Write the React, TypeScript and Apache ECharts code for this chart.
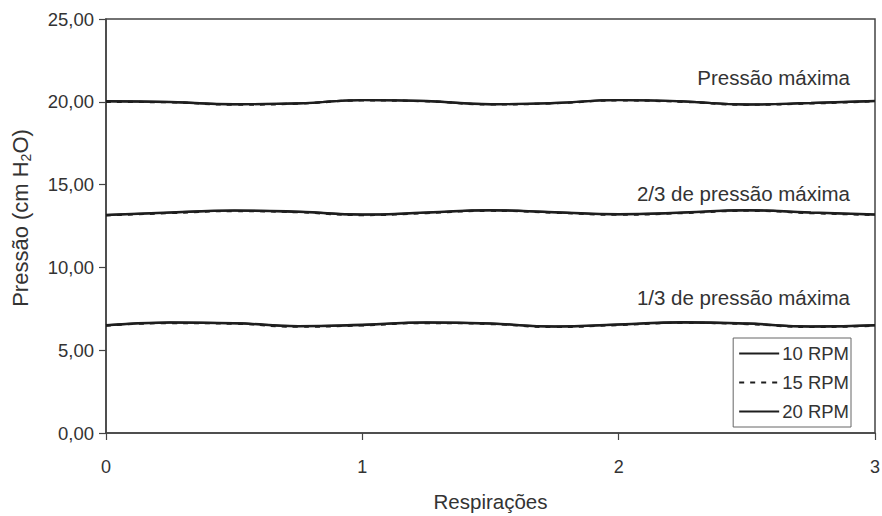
import React, { useEffect, useRef } from "react";
import * as echarts from "echarts";

const breaths = [0, 0.25, 0.5, 0.75, 1, 1.25, 1.5, 1.75, 2, 2.25, 2.5, 2.75, 3];

const max10 = [20.02, 19.98, 19.85, 19.9, 20.1, 20.04, 19.85, 19.92, 20.1, 20.02, 19.83, 19.92, 20.04];
const max15 = [20.0, 19.97, 19.83, 19.89, 20.08, 20.03, 19.84, 19.91, 20.08, 20.0, 19.82, 19.9, 20.03];
const max20 = [20.04, 20.0, 19.86, 19.91, 20.11, 20.05, 19.86, 19.93, 20.11, 20.03, 19.84, 19.93, 20.05];

const twoThirds10 = [13.16, 13.3, 13.42, 13.35, 13.18, 13.3, 13.44, 13.32, 13.2, 13.3, 13.44, 13.3, 13.18];
const twoThirds15 = [13.14, 13.28, 13.4, 13.33, 13.16, 13.28, 13.42, 13.3, 13.18, 13.28, 13.42, 13.28, 13.16];
const twoThirds20 = [13.18, 13.32, 13.44, 13.37, 13.2, 13.32, 13.46, 13.34, 13.22, 13.32, 13.46, 13.32, 13.2];

const oneThird10 = [6.5, 6.66, 6.62, 6.44, 6.52, 6.66, 6.6, 6.42, 6.54, 6.67, 6.6, 6.42, 6.5];
const oneThird15 = [6.48, 6.64, 6.6, 6.42, 6.5, 6.64, 6.58, 6.4, 6.52, 6.65, 6.58, 6.4, 6.48];
const oneThird20 = [6.52, 6.68, 6.64, 6.46, 6.54, 6.68, 6.62, 6.44, 6.56, 6.69, 6.62, 6.44, 6.52];

const seriesNames = ["10 RPM", "15 RPM", "20 RPM"];
const levelLabels = ["Pressão máxima", "2/3 de pressão máxima", "1/3 de pressão máxima"];

const FONT = "Liberation Sans";
const TEXT = "#333";
const LINE = "#1e1e1e";

function pairs(vals: number[]) {
  return breaths.map((b, i) => [b, vals[i]]);
}

export default function App() {
  const ref = useRef<HTMLDivElement>(null);
  useEffect(() => {
    if (!ref.current) return;
    const chart = echarts.init(ref.current, null, { renderer: "svg" });
    const groups = [
      [max10, max15, max20],
      [twoThirds10, twoThirds15, twoThirds20],
      [oneThird10, oneThird15, oneThird20],
    ];
    const series: any[] = [];
    groups.forEach((g) => {
      g.forEach((vals, k) => {
        series.push({
          name: seriesNames[k],
          type: "line",
          smooth: true,
          symbol: "none",
          data: pairs(vals),
          lineStyle: { color: LINE, width: 2.2, type: k === 1 ? [5, 6] : "solid" },
          itemStyle: { color: LINE },
        });
      });
    });
    const annoFont = `20.5px "${FONT}"`;
    chart.setOption({
      animation: false,
      textStyle: { fontFamily: FONT },
      grid: {
        left: 106,
        right: 7,
        top: 19,
        bottom: 83,
        show: true,
        borderColor: "#444",
        borderWidth: 1.5,
        containLabel: false,
        outerBoundsMode: "none",
      },
      legend: {
        data: seriesNames,
        orient: "vertical",
        right: 31,
        bottom: 89,
        itemWidth: 40,
        itemHeight: 19,
        itemGap: 10,
        padding: [6, 2, 6, 5],
        borderColor: "#666",
        borderWidth: 1,
        borderRadius: 0,
        backgroundColor: "#fff",
        itemStyle: { opacity: 0 },
        lineStyle: { width: 2 },
        textStyle: { color: TEXT, fontSize: 18.5, fontFamily: FONT, padding: [0, 0, 0, -2] },
      },
      xAxis: {
        type: "value",
        min: 0,
        max: 3,
        interval: 1,
        name: "Respirações",
        nameLocation: "middle",
        nameGap: 58,
        nameTextStyle: { color: TEXT, fontSize: 20.5, fontFamily: FONT },
        axisLine: { show: true, lineStyle: { color: "#444", width: 1.5 } },
        axisTick: { show: true, length: 7, lineStyle: { color: "#444", width: 1.2 } },
        axisLabel: { color: TEXT, fontSize: 18, margin: 25, fontFamily: FONT },
        splitLine: { show: false },
      },
      yAxis: {
        type: "value",
        min: 0,
        max: 25,
        interval: 5,
        name: "Pressão (cm H{sub|2}O)",
        nameLocation: "middle",
        nameGap: 73,
        nameRotate: 90,
        nameTextStyle: {
          color: TEXT,
          fontSize: 22,
          fontFamily: FONT,
          padding: [0, 0, 0, 16],
          rich: {
            sub: {
              fontSize: 14,
              color: TEXT,
              fontFamily: FONT,
              verticalAlign: "bottom",
              padding: [11, 0, 0, 0],
            },
          },
        },
        axisLine: { show: true, lineStyle: { color: "#444", width: 1.5 } },
        axisTick: { show: true, length: 7, lineStyle: { color: "#444", width: 1.2 } },
        axisLabel: {
          color: TEXT,
          fontSize: 18.5,
          margin: 12,
          fontFamily: FONT,
          formatter: (v: number) => v.toFixed(2).replace(".", ","),
        },
        splitLine: { show: false },
      },
      graphic: [
        { type: "text", x: 850, y: 77, style: { text: levelLabels[0], fill: TEXT, font: annoFont, align: "right", verticalAlign: "middle" } },
        { type: "text", x: 850, y: 193, style: { text: levelLabels[1], fill: TEXT, font: annoFont, align: "right", verticalAlign: "middle" } },
        { type: "text", x: 850, y: 297, style: { text: levelLabels[2], fill: TEXT, font: annoFont, align: "right", verticalAlign: "middle" } },
      ],
      series,
    });
    return () => chart.dispose();
  }, []);
  return <div ref={ref} style={{ width: 882, height: 516, position: "absolute", left: 0, top: 0 }} />;
}
